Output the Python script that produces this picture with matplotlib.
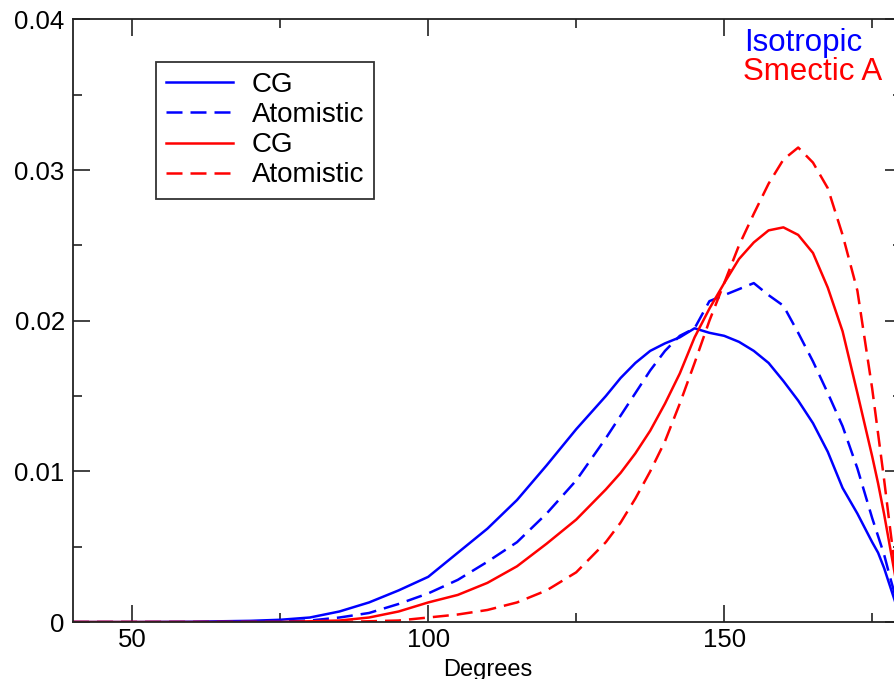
import numpy as np
import matplotlib
matplotlib.use('Agg')
import matplotlib.pyplot as plt
from matplotlib.ticker import MultipleLocator

plt.rcParams['font.family'] = ['Liberation Sans', 'DejaVu Sans']

# bond angle (degrees), shared grid for all four curves
degrees = [40, 50, 60, 70, 75, 80, 85, 90, 95, 100, 105, 110, 115, 120, 125,
           130, 132.5, 135, 137.5, 140, 142.5, 145, 147.5, 150, 152.5, 155,
           157.5, 160, 162.5, 165, 167.5, 170, 172.5, 175, 176, 177, 178,
           179, 180]

# isotropic phase
iso_cg = [0, 0, 0.00002, 0.00008, 0.00015, 0.0003, 0.0007, 0.0013, 0.0021,
          0.0030, 0.0046, 0.0062, 0.0081, 0.0104, 0.0128, 0.0150, 0.0162,
          0.0172, 0.0180, 0.0185, 0.0189, 0.0195, 0.0192, 0.0190, 0.0186,
          0.0180, 0.0172, 0.0160, 0.0147, 0.0132, 0.0113, 0.0089, 0.0072,
          0.0053, 0.0046, 0.0036, 0.0024, 0.0012, 0.0003]
iso_atom = [0, 0, 0, 0.00002, 0.00005, 0.0001, 0.0003, 0.0006, 0.0012,
            0.0019, 0.0028, 0.0040, 0.0053, 0.0072, 0.0094, 0.0122, 0.0137,
            0.0152, 0.0167, 0.0180, 0.0190, 0.0195, 0.0213, 0.0217, 0.0221,
            0.0225, 0.0217, 0.0210, 0.0192, 0.0173, 0.0152, 0.0130, 0.0102,
            0.0069, 0.0057, 0.0045, 0.0030, 0.0016, 0.0004]

# smectic A phase
sma_cg = [0, 0, 0, 0, 0, 0.00005, 0.0001, 0.0003, 0.0007, 0.0013, 0.0018,
          0.0026, 0.0037, 0.0052, 0.0068, 0.0088, 0.0099, 0.0112, 0.0127,
          0.0145, 0.0165, 0.0189, 0.0208, 0.0225, 0.0241, 0.0252, 0.0260,
          0.0262, 0.0257, 0.0245, 0.0222, 0.0193, 0.0152, 0.0110, 0.0092,
          0.0072, 0.0050, 0.0028, 0.0008]
sma_atom = [0, 0, 0, 0, 0, 0, 0, 0.00005, 0.0001, 0.0003, 0.0005, 0.0008,
            0.0013, 0.0021, 0.0033, 0.0053, 0.0066, 0.0082, 0.0100, 0.0120,
            0.0145, 0.0172, 0.0200, 0.0225, 0.0250, 0.0271, 0.0291, 0.0307,
            0.0315, 0.0305, 0.0288, 0.0257, 0.0220, 0.0155, 0.0125, 0.0095,
            0.0063, 0.0032, 0.0008]

fig = plt.figure(figsize=(8.94, 6.79), dpi=100)
ax = fig.add_axes([0.0817, 0.0839, 0.927, 0.8874])

lw = 1.8
dash = (6.4, 3.2)
ax.plot(degrees, iso_cg, color='#0000ff', lw=lw, label='CG')
ax.plot(degrees, iso_atom, color='#0000ff', lw=lw, dashes=dash, label='Atomistic')
ax.plot(degrees, sma_cg, color='#ff0000', lw=lw, label='CG')
ax.plot(degrees, sma_atom, color='#ff0000', lw=lw, dashes=dash, label='Atomistic')

ax.set_xlim(40, 180)
ax.set_ylim(0, 0.04)
ax.xaxis.set_major_locator(MultipleLocator(50))
ax.xaxis.set_minor_locator(MultipleLocator(25))
ax.yaxis.set_minor_locator(MultipleLocator(0.005))
ax.set_yticks([0, 0.01, 0.02, 0.03, 0.04])
ax.set_yticklabels(['0', '0.01', '0.02', '0.03', '0.04'])

ax.tick_params(which='both', direction='in', top=True, right=True,
               color='#222222', width=1.2)
ax.tick_params(which='major', length=12.5, labelsize=18.5)
ax.tick_params(which='minor', length=6.5)
ax.tick_params(axis='x', pad=4)
ax.tick_params(axis='y', pad=6)
for s in ax.spines.values():
    s.set_linewidth(1.3)
    s.set_color('#222222')

ax.set_xlabel('Degrees', fontsize=17, labelpad=5)

leg = ax.legend(loc='upper left', bbox_to_anchor=(156 / 894, 1 - 62 / 679),
                bbox_transform=fig.transFigure, fontsize=20, frameon=True,
                fancybox=False, edgecolor='black', handlelength=2.4,
                handletextpad=0.68, labelspacing=0.15, borderpad=0.36,
                borderaxespad=0)
leg.get_frame().set_linewidth(1.3)

fig.text(744 / 894, 1 - 43 / 679, 'Isotropic', color='#0000ff',
         fontsize=22.5, va='center', ha='left')
fig.text(743 / 894, 1 - 72 / 679, 'Smectic A', color='#ff0000',
         fontsize=22.5, va='center', ha='left')

fig.savefig('out.png', dpi=100)
